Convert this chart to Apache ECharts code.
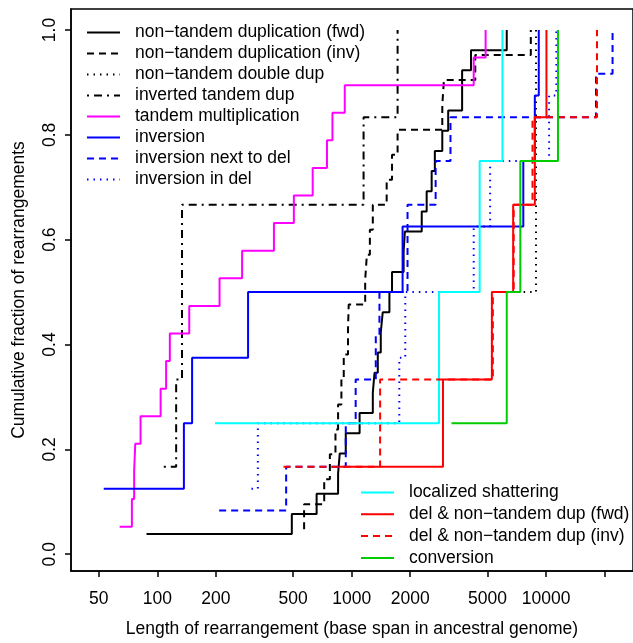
<!DOCTYPE html>
<html>
<head>
<meta charset="utf-8">
<script src="https://cdn.jsdelivr.net/npm/echarts@6/dist/echarts.min.js"></script>
<style>
  html, body { margin: 0; padding: 0; background: #fff; }
  #chart { width: 633px; height: 643px; }
</style>
</head>
<body>
<div id="chart"></div>
<script>
// lengths (bp) of each rearrangement class, sorted
const nonTandemFwd = [88, 492, 660, 851, 868, 932, 1098, 1284, 1310, 1362, 1411, 1444, 1563, 1612, 1849, 1877, 2292, 2430, 2578, 2677, 2924, 3136, 3698, 3698, 4109, 6274];
const nonTandemInv = [569, 569, 722, 772, 825, 851, 885, 910, 957, 965, 1173, 1197, 1240, 1284, 1513, 1612, 1722, 2924, 2982, 4322, 8343];
const nonTandemDouble = [7661, 8872];
const invertedTandem = [108, 125, 134, 134, 1151, 1722];
const tandemMult = [64, 74, 76, 77, 82, 104, 111, 116, 146, 209, 273, 398, 504, 630, 746, 796, 921, 4242, 4885];
const inversion = [53, 137, 151, 293, 1827, 7634, 8750, 9169];
const inversionNextDel = [208, 460, 932, 1048, 1330, 1389, 1937, 1937, 2702, 3222, 18060, 21970];
const inversionInDel = [305, 329, 1757, 1886, 4242, 5153, 10360, 11290];
const localShatter = [198, 2812, 4552, 5963];
const delDupFwd = [868, 2948, 5261, 6770, 8750, 10040];
const delDupInv = [446, 1400, 5322, 6811, 8513, 18270];
const conversion = [3261, 6274, 7368, 11510];

const xTicks = [50, 100, 200, 500, 1000, 2000, 5000, 10000, 20000];
const xLabels = [50, 100, 200, 500, 1000, 2000, 5000, 10000];
const yTicks = [0, 0.2, 0.4, 0.6, 0.8, 1.0];

const DASH = [7, 5];
const DOT = [1.5, 5];
const DASHDOT = [2, 5, 8, 5];

const classes = [
  { name: 'non\u2212tandem duplication (fwd)', data: nonTandemFwd, color: '#000000', type: 'solid' },
  { name: 'non\u2212tandem duplication (inv)', data: nonTandemInv, color: '#000000', type: DASH },
  { name: 'non\u2212tandem double dup', data: nonTandemDouble, color: '#000000', type: DOT },
  { name: 'inverted tandem dup', data: invertedTandem, color: '#000000', type: DASHDOT },
  { name: 'tandem multiplication', data: tandemMult, color: '#ff00ff', type: 'solid' },
  { name: 'inversion', data: inversion, color: '#0000ff', type: 'solid' },
  { name: 'inversion next to del', data: inversionNextDel, color: '#0000ff', type: DASH },
  { name: 'inversion in del', data: inversionInDel, color: '#0000ff', type: DOT },
  { name: 'localized shattering', data: localShatter, color: '#00ffff', type: 'solid' },
  { name: 'del & non\u2212tandem dup (fwd)', data: delDupFwd, color: '#ff0000', type: 'solid' },
  { name: 'del & non\u2212tandem dup (inv)', data: delDupInv, color: '#ff0000', type: DASH },
  { name: 'conversion', data: conversion, color: '#00cd00', type: 'solid' }
];

// empirical cdf: (length, i/n), drawn as R type="s" steps
function ecdfSeries(c) {
  const n = c.data.length;
  return {
    name: c.name,
    type: 'line',
    step: 'end',
    symbol: 'none',
    animation: false,
    lineStyle: { color: c.color, width: 2, type: c.type },
    itemStyle: { color: c.color },
    data: c.data.map((v, i) => [Math.log10(v), (i + 1) / n])
  };
}

const FONT = 'Liberation Sans, Arial, Helvetica, sans-serif';
const FS = 17.5;

const legendBase = {
  orient: 'vertical',
  padding: 0,
  itemWidth: 33,
  itemHeight: 14,
  selectedMode: false,
  itemStyle: { opacity: 0 },
  textStyle: { fontSize: FS, lineHeight: 18, color: '#000', fontFamily: FONT, padding: [0, 0, 0, 10] }
};

const chart = echarts.init(document.getElementById('chart'));
chart.setOption({
  backgroundColor: '#fff',
  textStyle: { fontFamily: FONT },
  grid: {
    left: 71, top: 9, width: 566, height: 566,
    show: true, borderColor: '#000', borderWidth: 1.5
  },
  legend: [
    Object.assign({}, legendBase, { left: 86, top: 23.5, itemGap: 3, data: classes.slice(0, 8).map(c => c.name) }),
    Object.assign({}, legendBase, { left: 360, top: 483.5, itemGap: 3.8, data: classes.slice(8).map(c => c.name) })
  ],
  xAxis: {
    type: 'value',
    min: 1.556,
    max: 4.447,
    name: 'Length of rearrangement (base span in ancestral genome)',
    nameLocation: 'middle',
    nameGap: 49,
    nameTextStyle: { fontSize: FS, color: '#000', fontFamily: FONT },
    axisLine: { show: true, onZero: false, lineStyle: { color: '#000', width: 1.5 } },
    axisTick: { show: true, length: 6, lineStyle: { color: '#000', width: 1.5 }, customValues: xTicks.map(Math.log10) },
    axisLabel: {
      fontSize: FS, color: '#000', margin: 19,
      customValues: xLabels.map(Math.log10),
      formatter: v => String(Math.round(Math.pow(10, v)))
    },
    splitLine: { show: false }
  },
  yAxis: {
    type: 'value',
    min: -0.032,
    max: 1.04,
    name: 'Cumulative fraction of rearrangements',
    nameLocation: 'middle',
    nameGap: 43,
    nameTextStyle: { fontSize: FS, color: '#000', fontFamily: FONT },
    axisLine: { show: true, onZero: false, lineStyle: { color: '#000', width: 1.5 } },
    axisTick: { show: true, length: 6, lineStyle: { color: '#000', width: 1.5 }, customValues: yTicks },
    axisLabel: {
      fontSize: FS, color: '#000', margin: 12, rotate: 90,
      customValues: yTicks,
      formatter: v => v.toFixed(1)
    },
    splitLine: { show: false }
  },
  series: classes.map(ecdfSeries)
});
</script>
</body>
</html>
